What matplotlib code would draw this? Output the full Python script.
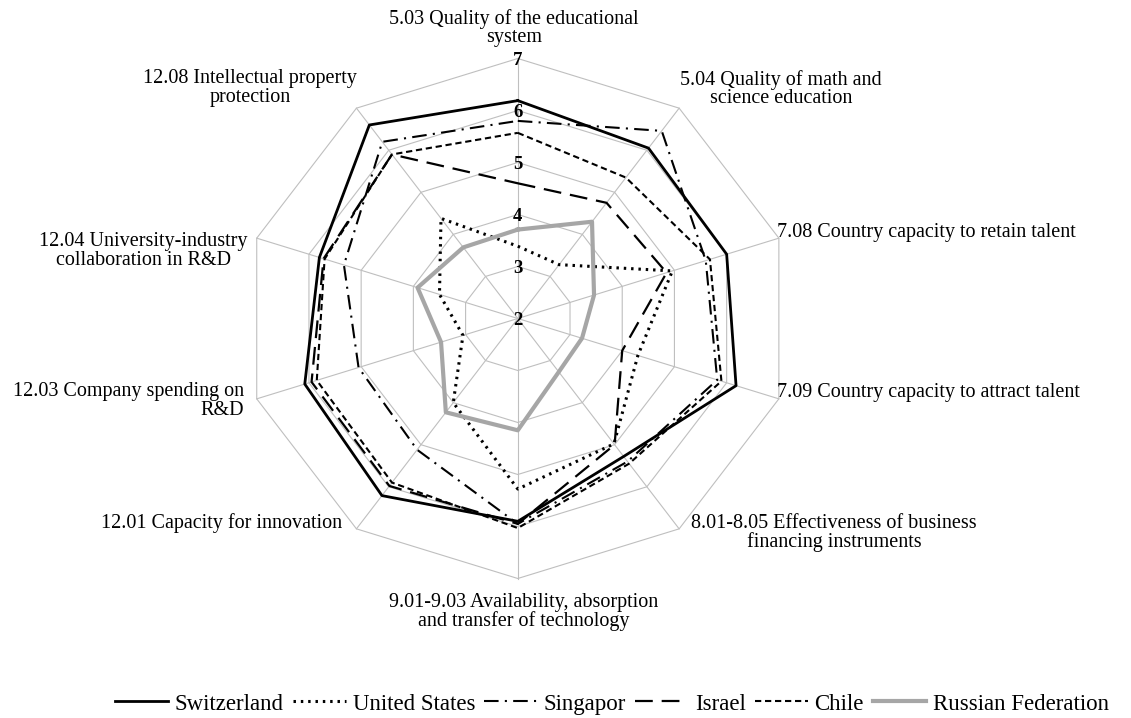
import numpy as np
import matplotlib.pyplot as plt

plt.rcParams['font.family'] = ['Liberation Serif', 'DejaVu Serif']

# Axis labels, clockwise from the top
categories = [
    "5.03 Quality of the educational\nsystem",
    "5.04 Quality of math and\nscience education",
    "7.08 Country capacity to retain talent",
    "7.09 Country capacity to attract talent",
    "8.01-8.05 Effectiveness of business\nfinancing instruments",
    "9.01-9.03 Availability, absorption\nand transfer of technology",
    "12.01 Capacity for innovation",
    "12.03 Company spending on\nR&D",
    "12.04 University-industry\ncollaboration in R&D",
    "12.08 Intellectual property\nprotection",
]

# Scores (1-7 scale)
switzerland = [6.19, 6.05, 6.00, 6.18, 5.28, 5.90, 6.21, 6.08, 5.80, 6.60]
united_states = [3.39, 3.28, 4.96, 4.30, 4.98, 5.28, 4.00, 3.05, 3.50, 4.38]
singapore = [5.80, 6.46, 5.60, 5.82, 5.40, 5.95, 5.12, 5.05, 5.33, 6.20]
israel = [4.60, 4.75, 4.85, 4.00, 5.00, 5.95, 5.98, 5.95, 5.72, 5.90]
chile = [5.57, 5.35, 5.68, 5.90, 5.45, 6.03, 5.90, 5.85, 5.70, 5.90]
russia = [3.71, 4.30, 3.46, 3.23, 3.27, 4.15, 4.23, 3.47, 3.92, 3.69]

levels = [2, 3, 4, 5, 6, 7]
vmin = levels[0]

n = len(categories)
theta = np.arange(n) * 2 * np.pi / n


def to_xy(vals):
    r = np.array(list(vals) + [vals[0]]) - vmin
    t = np.append(theta, theta[0])
    return r * np.sin(t), r * np.cos(t)


W, H = 1131, 718
cx, cy = 517.8, 318.5      # centre of the web in pixels
sx, sy = 54.9, 52.0        # pixels per scale unit (horizontal / vertical)

fig = plt.figure(figsize=(W / 100, H / 100), dpi=100)
ax = fig.add_axes([0, 0, 1, 1])
ax.set_xlim(-cx / sx, (W - cx) / sx)
ax.set_ylim(-(H - cy) / sy, cy / sy)
ax.axis('off')


def px(x, y):
    return (x - cx) / sx, (cy - y) / sy


# grid: decagon rings and spokes
grid_col = '#BFBFBF'
for lv in levels[1:]:
    gx, gy = to_xy([lv] * n)
    ax.plot(gx, gy, color=grid_col, lw=0.8, zorder=1)
rmax = levels[-1] - vmin
for t in theta:
    ax.plot([0, rmax * np.sin(t)], [0, rmax * np.cos(t)], color=grid_col, lw=0.8, zorder=1)

# scale labels along the top spoke
for lv in levels:
    ax.text(0, lv - vmin - 0.04, str(lv), ha='center', va='center',
            fontsize=13.5, fontweight='bold', zorder=5)

series = [
    ("Switzerland", switzerland, dict(color='black', lw=2.0, ls='-')),
    ("United States", united_states, dict(color='black', lw=2.2, ls=(0, (0.8, 1.6)))),
    ("Singapor", singapore, dict(color='black', lw=1.5, ls=(0, (7, 3, 1, 3)))),
    ("Israel", israel, dict(color='black', lw=1.6, ls=(0, (8, 4)))),
    ("Chile", chile, dict(color='black', lw=1.5, ls=(0, (3, 1.8)))),
    ("Russian Federation", russia, dict(color='#A6A6A6', lw=3.0, ls='-')),
]

for name, vals, style in series:
    x, y = to_xy(vals)
    ax.plot(x, y, label=name, zorder=3, **style)

# category labels (pixel positions as in the original layout)
label_pos = [
    (514, 28, 'center'),
    (781, 89, 'center'),
    (777, 232, 'left'),
    (777, 392, 'left'),
    (834, 533, 'center'),
    (524, 612, 'center'),
    (342, 523, 'right'),
    (244, 401, 'right'),
    (143, 251, 'center'),
    (250, 88, 'center'),
]
for text, (lx, ly, ha) in zip(categories, label_pos):
    x, y = px(lx, ly)
    ax.text(x, y, text, ha=ha, va='center', multialignment=ha,
            fontsize=14.5, linespacing=0.95)

fig.legend(loc='center', bbox_to_anchor=(612 / W, 1 - 704 / H), ncol=6, frameon=False,
           fontsize=16.5, handlelength=2.3, handletextpad=0.3, columnspacing=0.4)

fig.savefig('out.png', dpi=100)
